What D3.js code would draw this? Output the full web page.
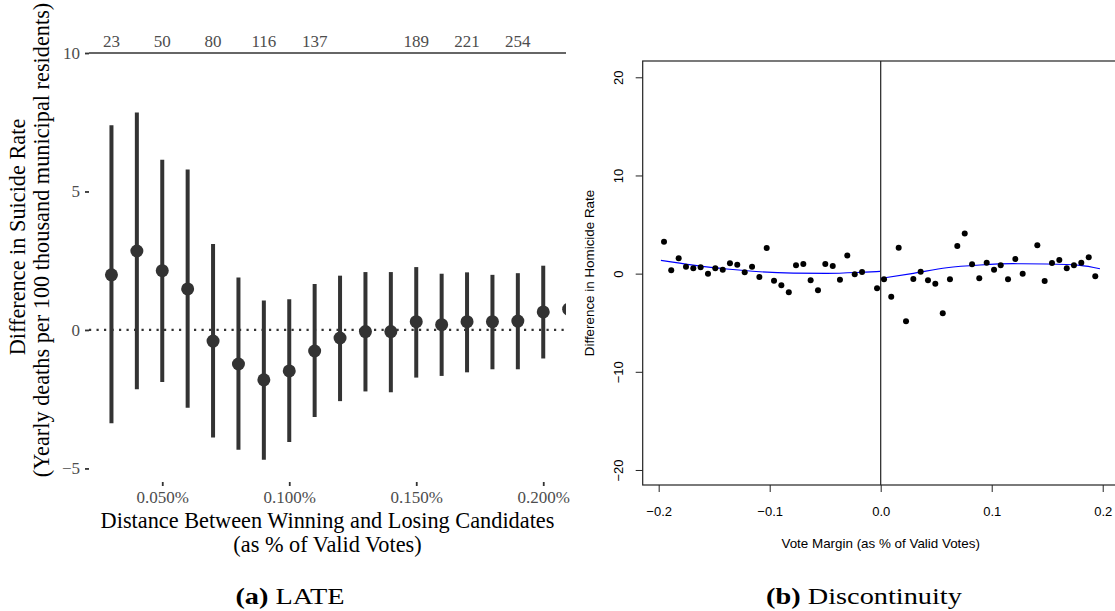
<!DOCTYPE html>
<html lang="en">
 <head>
  <meta charset="UTF-8">
  <title>LATE and Discontinuity</title>
  <style>
    body { margin: 0; background: #fff; }
    svg { display: block; }
  </style>
 </head>
 <body>
<svg width="1115" height="611"></svg>

<script src="https://cdn.jsdelivr.net/npm/d3@7/dist/d3.min.js"></script>
<script>

// ---- panel (a): LATE by bandwidth ----
var lateX = [0.03, 0.04, 0.05, 0.06, 0.07, 0.08, 0.09, 0.10, 0.11, 0.12,
             0.13, 0.14, 0.15, 0.16, 0.17, 0.18, 0.19, 0.20, 0.21];
var lateEst = [1.99, 2.85, 2.14, 1.48, -0.40, -1.23, -1.80, -1.48, -0.76, -0.29,
               -0.06, -0.06, 0.30, 0.19, 0.30, 0.30, 0.32, 0.65, 0.75];
var lateLow = [-3.37, -2.14, -1.88, -2.81, -3.88, -4.33, -4.69, -4.05, -3.14, -2.57,
               -2.22, -2.25, -1.72, -1.66, -1.53, -1.42, -1.42, -1.03, -0.90];
var lateHigh = [7.39, 7.85, 6.15, 5.79, 3.10, 1.89, 1.06, 1.11, 1.66, 1.96,
                2.09, 2.09, 2.27, 2.03, 2.08, 1.99, 2.05, 2.32, 2.40];
var countX = [0.03, 0.05, 0.07, 0.09, 0.11, 0.15, 0.17, 0.19];
var countLabels = ["23", "50", "80", "116", "137", "189", "221", "254"];
var lateXTicks = [0.05, 0.10, 0.15, 0.20];
var lateYTicks = [-5, 0, 5, 10];

// ---- panel (b): binned means and fitted polynomial ----
var binLeftX = [-0.1952, -0.1887, -0.1820, -0.1754, -0.1688, -0.1622, -0.1556, -0.1490, -0.1423, -0.1358,
                -0.1292, -0.1225, -0.1159, -0.1093, -0.1027, -0.0961, -0.0895, -0.0828, -0.0763, -0.0697,
                -0.0631, -0.0565, -0.0499, -0.0432, -0.0367, -0.0301, -0.0234, -0.0168, -0.0033];
var binLeftY = [3.25, 0.34, 1.56, 0.70, 0.54, 0.64, -0.01, 0.54, 0.40, 1.05,
                0.91, 0.13, 0.70, -0.35, 2.61, -0.72, -1.19, -1.90, 0.85, 0.98,
                -0.68, -1.70, 0.98, 0.77, -0.62, 1.86, -0.07, 0.16, -1.50];
var binRightX = [0.0030, 0.0095, 0.0162, 0.0228, 0.0294, 0.0360, 0.0426, 0.0492, 0.0559, 0.0624,
                 0.0690, 0.0757, 0.0823, 0.0888, 0.0955, 0.1021, 0.1081, 0.1147, 0.1213, 0.1279,
                 0.1411, 0.1477, 0.1543, 0.1609, 0.1676, 0.1741, 0.1807, 0.1874, 0.1933];
var binRightY = [-0.58, -2.35, 2.64, -4.86, -0.55, 0.19, -0.68, -1.03, -4.04, -0.58,
                 2.81, 4.10, 0.95, -0.48, 1.11, 0.40, 0.85, -0.58, 1.49, -0.01,
                 2.88, -0.75, 1.08, 1.38, 0.54, 0.85, 1.11, 1.66, -0.27];
var fitLeftX = [-0.1980, -0.1688, -0.1387, -0.1087, -0.0787, -0.0486, -0.0186, -0.0006];
var fitLeftY = [1.35, 0.87, 0.47, 0.19, 0.06, 0.03, 0.13, 0.23];
var fitRightX = [0.0003, 0.0294, 0.0595, 0.0895, 0.1195, 0.1495, 0.1795, 0.1975];
var fitRightY = [-0.48, 0.03, 0.60, 0.88, 1.01, 0.98, 0.85, 0.50];
var rdXTicks = [-0.2, -0.1, 0.0, 0.1, 0.2];
var rdYTicks = [-20, -10, 0, 10, 20];

var svg = d3.select("svg");
var serif = "'Liberation Serif', 'Times New Roman', serif";
var sans = "'Liberation Sans', Arial, sans-serif";
var ink = "#333333";
var titleSize = 22.3;

// ================= panel (a) =================
var xa = d3.scaleLinear().domain([0.021, 0.219]).range([88.6, 591.5]);
var ya = d3.scaleLinear().domain([-5.49, 10]).range([482, 53]);

svg.append("defs").append("clipPath").attr("id", "clipA")
  .append("rect").attr("x", 89).attr("y", 0).attr("width", 566 - 89).attr("height", 482);

var pa = svg.append("g");

// horizontal rule at 10 and dotted zero line
pa.append("line")
  .attr("x1", 89).attr("x2", 566)
  .attr("y1", ya(10)).attr("y2", ya(10))
  .attr("stroke", ink).attr("stroke-width", 1.6);
pa.append("line")
  .attr("x1", 89).attr("x2", 566)
  .attr("y1", ya(0)).attr("y2", ya(0))
  .attr("stroke", ink).attr("stroke-width", 2.2)
  .attr("stroke-dasharray", "2.2,5.3");

var marks = pa.append("g").attr("clip-path", "url(#clipA)");
marks.selectAll("line.ci").data(lateX).enter().append("line")
  .attr("class", "ci")
  .attr("x1", function(d){ return xa(d) }).attr("x2", function(d){ return xa(d) })
  .attr("y1", function(d, i){ return ya(lateLow[i]) })
  .attr("y2", function(d, i){ return ya(lateHigh[i]) })
  .attr("stroke", ink).attr("stroke-width", 4);
marks.selectAll("circle").data(lateX).enter().append("circle")
  .attr("cx", function(d){ return xa(d) })
  .attr("cy", function(d, i){ return ya(lateEst[i]) })
  .attr("r", 6.5)
  .attr("fill", ink);

// sample sizes along the top
pa.selectAll("text.count").data(countX).enter().append("text")
  .attr("class", "count")
  .attr("x", function(d){ return xa(d) })
  .attr("y", ya(10.2))
  .attr("text-anchor", "middle")
  .attr("font-family", serif).attr("font-size", 17)
  .attr("fill", "#4d4d4d")
  .text(function(d, i){ return countLabels[i] });

// axes
var axA = pa.append("g").attr("transform", "translate(0,482)")
  .call(d3.axisBottom(xa).tickValues(lateXTicks).tickSize(4).tickPadding(5)
    .tickFormat(function(d){ return d3.format(".3f")(d) + "%" }));
var ayA = pa.append("g").attr("transform", "translate(89,0)")
  .call(d3.axisLeft(ya).tickValues(lateYTicks).tickSize(4).tickPadding(5)
    .tickFormat(function(d){ return d < 0 ? "\u2212" + Math.abs(d) : d }));
[axA, ayA].forEach(function(ax){
  ax.select(".domain").remove();
  ax.selectAll(".tick line").attr("stroke", ink).attr("stroke-width", 1.8);
  ax.selectAll(".tick text").attr("font-family", serif).attr("font-size", 17).attr("fill", "#4d4d4d");
});

// axis titles
pa.append("text")
  .attr("x", 327.5).attr("y", 528)
  .attr("text-anchor", "middle")
  .attr("font-family", serif).attr("font-size", titleSize).attr("fill", "#000")
  .text("Distance Between Winning and Losing Candidates");
pa.append("text")
  .attr("x", 327.5).attr("y", 552)
  .attr("text-anchor", "middle")
  .attr("font-family", serif).attr("font-size", titleSize).attr("fill", "#000")
  .text("(as % of Valid Votes)");
pa.append("text")
  .attr("transform", "translate(25,237) rotate(-90)")
  .attr("text-anchor", "middle")
  .attr("font-family", serif).attr("font-size", titleSize).attr("fill", "#000")
  .text("Difference in Suicide Rate");
pa.append("text")
  .attr("transform", "translate(49,240) rotate(-90)")
  .attr("text-anchor", "middle")
  .attr("font-family", serif).attr("font-size", titleSize).attr("fill", "#000")
  .text("(Yearly deaths per 100 thousand municipal residents)");

// ================= panel (b) =================
var xb = d3.scaleLinear().domain([-0.2144, 0.2144]).range([642.7, 1118.7]);
var yb = d3.scaleLinear().domain([-21.53, 21.66]).range([485, 61]);

var pb = svg.append("g");

pb.append("rect")
  .attr("x", 642.7).attr("y", 61)
  .attr("width", 1118.7 - 642.7).attr("height", 485 - 61)
  .attr("fill", "none").attr("stroke", "#222").attr("stroke-width", 1.2);
pb.append("line")
  .attr("x1", xb(0)).attr("x2", xb(0))
  .attr("y1", 61).attr("y2", 485)
  .attr("stroke", "#222").attr("stroke-width", 1.2);

var fitLine = d3.line()
  .x(function(d){ return xb(d[0]) })
  .y(function(d){ return yb(d[1]) })
  .curve(d3.curveMonotoneX);
[[fitLeftX, fitLeftY], [fitRightX, fitRightY]].forEach(function(s){
  pb.append("path")
    .datum(s[0].map(function(v, i){ return [v, s[1][i]] }))
    .attr("d", fitLine)
    .attr("fill", "none").attr("stroke", "#0000ff").attr("stroke-width", 1.2);
});

var bins = binLeftX.map(function(v, i){ return [v, binLeftY[i]] })
  .concat(binRightX.map(function(v, i){ return [v, binRightY[i]] }));
pb.selectAll("circle").data(bins).enter().append("circle")
  .attr("cx", function(d){ return xb(d[0]) })
  .attr("cy", function(d){ return yb(d[1]) })
  .attr("r", 3)
  .attr("fill", "#000");

var axB = pb.append("g").attr("transform", "translate(0,485)")
  .call(d3.axisBottom(xb).tickValues(rdXTicks).tickSize(7).tickPadding(15)
    .tickFormat(function(d){ var s = d3.format(".1f")(Math.abs(d)); return d < 0 ? "\u2212" + s : s }));
var ayB = pb.append("g").attr("transform", "translate(642.7,0)")
  .call(d3.axisLeft(yb).tickValues(rdYTicks).tickSize(7)
    .tickFormat(function(d){ return d < 0 ? "\u2212" + Math.abs(d) : d }));
[axB, ayB].forEach(function(ax){
  ax.select(".domain").remove();
  ax.selectAll(".tick line").attr("stroke", "#222").attr("stroke-width", 1);
  ax.selectAll(".tick text").attr("font-family", sans).attr("font-size", 13).attr("fill", "#000");
});
ayB.selectAll(".tick text")
  .attr("transform", "rotate(-90)")
  .attr("x", 0).attr("y", -20).attr("dy", 0)
  .attr("text-anchor", "middle");

pb.append("text")
  .attr("x", xb(0)).attr("y", 548)
  .attr("text-anchor", "middle")
  .attr("font-family", sans).attr("font-size", 13.4).attr("fill", "#000")
  .text("Vote Margin (as % of Valid Votes)");
pb.append("text")
  .attr("transform", "translate(594,273) rotate(-90)")
  .attr("text-anchor", "middle")
  .attr("font-family", sans).attr("font-size", 13.4).attr("fill", "#000")
  .text("Difference in Homicide Rate");

// ================= captions =================
// LaTeX-style captions: Computer Modern is wider than Times, so stretch a little
function caption(x, tag, label) {
  var t = svg.append("text")
    .attr("transform", "translate(" + x + ",604) scale(1.18,1)")
    .attr("text-anchor", "middle")
    .attr("font-family", serif).attr("font-size", 24).attr("fill", "#000");
  t.append("tspan").attr("font-weight", "bold").text(tag);
  t.append("tspan").text(" " + label);
}
caption(290, "(a)", "LATE");
caption(864, "(b)", "Discontinuity");

</script>
 </body>
</html>
